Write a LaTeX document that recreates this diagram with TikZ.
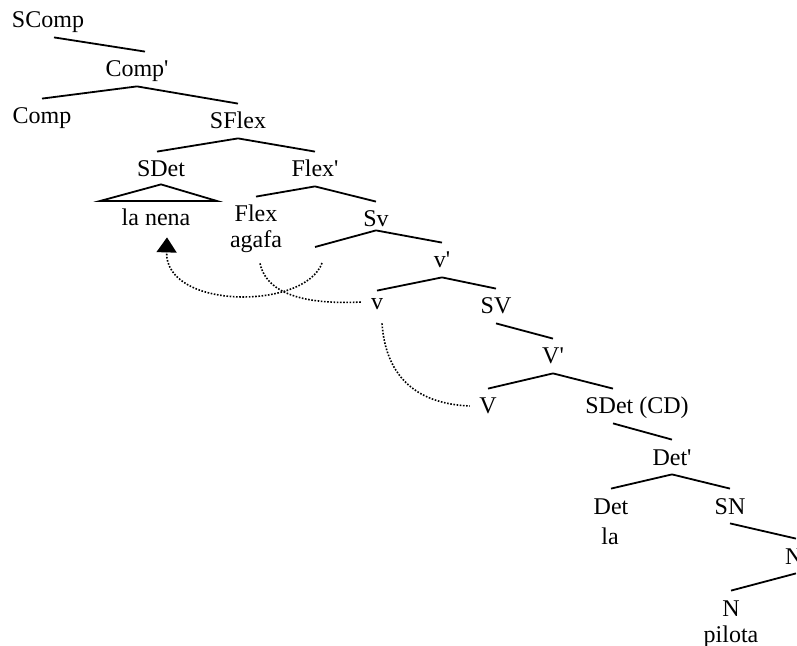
\documentclass[tikz,border=0pt]{standalone}
\usepackage{fontspec}
\setmainfont{Liberation Serif}[Ligatures=TeXOff]
\usetikzlibrary{arrows.meta,positioning}

\begin{document}
\begin{tikzpicture}[x=0.5pt,y=-0.5pt,
    cat/.style={anchor=base,inner sep=4.5pt,text height=8pt,text depth=0pt,font=\fontsize{12}{14}\selectfont},
    branch/.style={line width=0.9pt},
    mov/.style={line width=0.8pt,dash pattern=on 0.8pt off 0.8pt}]
    \useasboundingbox (0,0) rectangle (797,646);

    % categories
    \node[cat] (scomp) at (48,28) {SComp};
    \node[cat] (compbar) at (137,77) {Comp'};
    \node[cat] (comp) at (42,124) {Comp};
    \node[cat] (sflex) at (238,129) {SFlex};
    \node[cat] (sdet) at (161,177) {SDet};
    \node[cat] (nena) at (156,226) {la nena};
    \node[cat] (flexbar) at (315,177) {Flex'};
    \node[cat] (flex) at (256,222) {Flex};
    \node[cat] (agafa) at (256,248) {agafa};
    \node[cat] (sv) at (376,227) {Sv};
    \coordinate (spec) at (315,247);
    \node[cat] (vbar) at (442,268) {v'};
    \node[cat] (v) at (377,310) {v};
    \node[cat] (svp) at (496,314) {SV};
    \node[cat] (vvbar) at (553,364) {V'};
    \node[cat] (vv) at (488,414) {V};
    \node[cat] (sdetcd) at (637,414) {SDet (CD)};
    \node[cat] (detbar) at (672,465) {Det'};
    \node[cat] (det) at (611,514) {Det};
    \node[cat] (la) at (610,544) {la};
    \node[cat] (sn) at (730,514) {SN};
    \node[cat] (nbar) at (796,564) {N'};
    \node[cat] (n) at (731,616) {N};
    \node[cat] (pilota) at (731,642) {pilota};

    % branches
    \draw[branch] ([xshift=3pt]scomp.south) -- ([xshift=4pt]compbar.north)
      (compbar.south) -- (comp.north)
      (compbar.south) -- (sflex.north)
      (sflex.south) -- ([xshift=-2pt]sdet.north)
      (sflex.south) -- (flexbar.north)
      (flexbar.south) -- (flex.north)
      (flexbar.south) -- (sv.north)
      ([yshift=3pt]sv.south) -- (spec)
      ([yshift=3pt]sv.south) -- (vbar.north)
      (vbar.south) -- ([yshift=-3pt]v.north)
      (vbar.south) -- (svp.north)
      (svp.south) -- (vvbar.north)
      (vvbar.south) -- (vv.north)
      (vvbar.south) -- ([xshift=-12pt]sdetcd.north)
      ([xshift=-12pt]sdetcd.south) -- (detbar.north)
      (detbar.south) -- (det.north)
      (detbar.south) -- (sn.north)
      (sn.south) -- (nbar.north)
      (nbar.south) -- (n.north);
    \coordinate (nenaL) at (100,201);
    \coordinate (nenaR) at (217,201);
    \draw[branch] ([yshift=1pt]sdet.south) -- (nenaL) -- (nenaR) -- cycle;

    % movement
    \coordinate (trace) at (322,263);
    \draw[mov,-{Triangle[width=10pt,length=7.5pt]}] (trace)
      .. controls (305,310) and (165,310) .. ([xshift=5.5pt,yshift=-1pt]nena.south);
    \draw[mov] ([shift={(2pt,-3pt)}]agafa.south) .. controls (268,300) and (320,304) .. (v.west);
    \draw[mov] ([shift={(2.5pt,-2pt)}]v.south) .. controls (386,380) and (420,404) .. (vv.west);
  \end{tikzpicture}
\end{document}
